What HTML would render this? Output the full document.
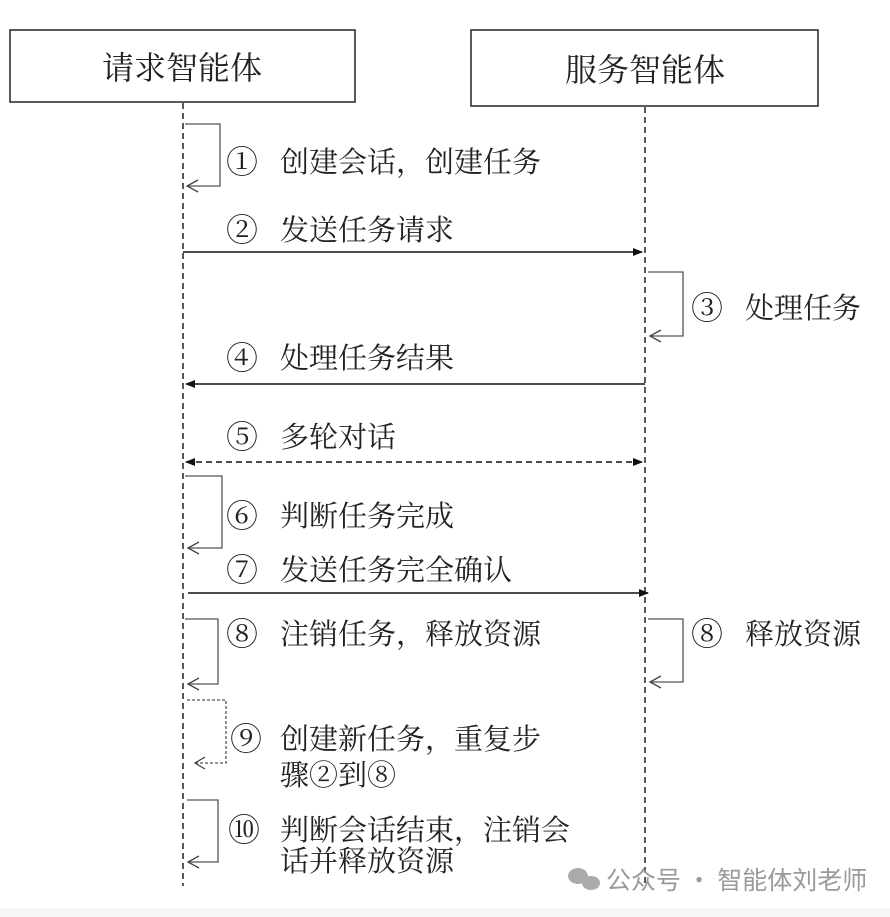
<!DOCTYPE html>
<html><head><meta charset="utf-8"><style>
html,body{margin:0;padding:0;background:#fff;}
svg{display:block;}
text{font-family:"Liberation Serif","Noto Serif CJK SC","Noto Sans CJK SC",serif;fill:#222;}
</style></head><body>
<svg width="890" height="917" viewBox="0 0 890 917" xmlns="http://www.w3.org/2000/svg">
<defs>
<marker id="fa" markerWidth="10" markerHeight="8" refX="9" refY="4" orient="auto" markerUnits="userSpaceOnUse"><path d="M0,0 L10,4 L0,8 Z" fill="#111"/></marker>
<marker id="fb" markerWidth="10" markerHeight="8" refX="1" refY="4" orient="auto" markerUnits="userSpaceOnUse"><path d="M10,0 L0,4 L10,8 Z" fill="#111"/></marker>
</defs>
<rect x="10" y="30" width="345" height="72" fill="#fff" stroke="#222" stroke-width="1.5"/>
<text x="182" y="79" font-size="32" text-anchor="middle">请求智能体</text>
<rect x="471" y="30" width="347" height="76" fill="#fff" stroke="#222" stroke-width="1.5"/>
<text x="645" y="81" font-size="32" text-anchor="middle">服务智能体</text>
<line x1="183" y1="103" x2="183" y2="886" stroke="#222" stroke-width="1.5" stroke-dasharray="6,4"/>
<line x1="645" y1="107" x2="645" y2="886" stroke="#222" stroke-width="1.5" stroke-dasharray="6,4"/>
<g fill="none" stroke="#555" stroke-width="1.3">
<polyline points="185,124 220,124 220,186 187,186"/>
<polyline points="648,272 683,272 683,336 650,336"/>
<polyline points="185,476 222,476 222,548 188,548"/>
<polyline points="185,619 218,619 218,684 188,684"/>
<polyline points="648,619 683,619 683,682 650,682"/>
<polyline points="187,700 226,700 226,763 195,763" stroke-dasharray="3,2"/>
<polyline points="187,800 218,800 218,862 188,862"/>
</g>
<g fill="none" stroke="#444" stroke-width="1.3">
<path d="M198,180 L187,186 L198,192"/>
<path d="M661,330 L650,336 L661,342"/>
<path d="M199,542 L188,548 L199,554"/>
<path d="M199,678 L188,684 L199,690"/>
<path d="M661,676 L650,682 L661,688"/>
<path d="M205,757 L195,763 L205,769"/>
<path d="M199,856 L188,862 L199,868"/>
</g>
<line x1="183" y1="252" x2="642" y2="252" stroke="#111" stroke-width="1.6" marker-end="url(#fa)"/>
<line x1="186" y1="384" x2="645" y2="384" stroke="#111" stroke-width="1.6" marker-start="url(#fb)"/>
<line x1="186" y1="462" x2="642" y2="462" stroke="#111" stroke-width="1.6" stroke-dasharray="6,4" marker-start="url(#fb)" marker-end="url(#fa)"/>
<line x1="188" y1="593" x2="648" y2="593" stroke="#111" stroke-width="1.6" marker-end="url(#fa)"/>
<g font-size="29">
<text x="226" y="173" font-size="32">①</text><text x="280" y="172">创建会话，创建任务</text>
<text x="226" y="241" font-size="32">②</text><text x="280" y="240">发送任务请求</text>
<text x="691" y="319" font-size="32">③</text><text x="745" y="318">处理任务</text>
<text x="226" y="369" font-size="32">④</text><text x="280" y="368">处理任务结果</text>
<text x="226" y="448" font-size="32">⑤</text><text x="280" y="447">多轮对话</text>
<text x="226" y="527" font-size="32">⑥</text><text x="280" y="526">判断任务完成</text>
<text x="226" y="581" font-size="32">⑦</text><text x="280" y="580">发送任务完全确认</text>
<text x="226" y="645" font-size="32">⑧</text><text x="280" y="644">注销任务，释放资源</text>
<text x="691" y="645" font-size="32">⑧</text><text x="745" y="644">释放资源</text>
<text x="230" y="750" font-size="32">⑨</text>
<text x="280" y="749">创建新任务，重复步</text>
<text x="280" y="785">骤②到⑧</text>
<text x="228" y="841" font-size="32">⑩</text>
<text x="280" y="840">判断会话结束，注销会</text>
<text x="280" y="871">话并释放资源</text>
</g>
<g fill="#aaa">
<ellipse cx="578" cy="876" rx="10" ry="8"/>
<ellipse cx="591" cy="883" rx="9" ry="7"/>
</g>
<text x="606" y="889" font-size="25" style="fill:#9a9a9a;font-family:'Noto Sans CJK SC',sans-serif">公众号 · 智能体刘老师</text>
<rect x="0" y="908" width="890" height="9" fill="#f6f6f6"/>
</svg>
</body></html>
